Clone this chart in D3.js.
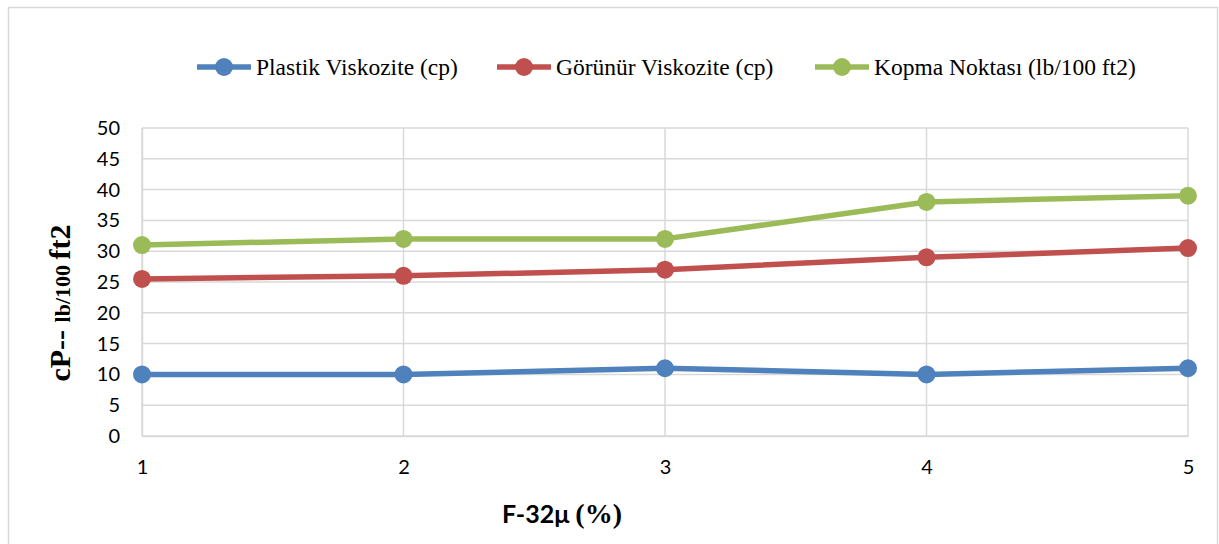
<!DOCTYPE html>
<html>
<head>
<meta charset="utf-8">
<script src="https://cdn.jsdelivr.net/npm/d3@7"></script>
<style>
    body { margin: 0; background: #fff; }
    svg { display: block; }
</style>
</head>
<body>
<div id="chart"></div>
<script>
// chart data
const xValues = [1, 2, 3, 4, 5];
const plastikViskozite = [10, 10, 11, 10, 11];
const gorunurViskozite = [25.5, 26, 27, 29, 30.5];
const kopmaNoktasi = [31, 32, 32, 38, 39];
const yTicks = [0, 5, 10, 15, 20, 25, 30, 35, 40, 45, 50];
const seriesNames = ["Plastik Viskozite (cp)", "Görünür Viskozite (cp)", "Kopma Noktası (lb/100 ft2)"];
const seriesColors = ["#4f81bd", "#c0504d", "#9bbb59"];

const width = 1219, height = 544;
const margin = {left: 142, right: 31, top: 128, bottom: 108};

const svg = d3.select("#chart").append("svg")
    .attr("width", width)
    .attr("height", height);

// outer chart border
svg.append("rect")
    .attr("x", 8.5).attr("y", 7.5)
    .attr("width", 1209).attr("height", 560)
    .attr("fill", "none")
    .attr("stroke", "#d9d9d9")
    .attr("stroke-width", 1.5);

const x = d3.scaleLinear().domain([1, 5]).range([margin.left, width - margin.right]);
const y = d3.scaleLinear().domain([0, 50]).range([height - margin.bottom, margin.top]);

// grid
svg.append("g").selectAll("line.h")
    .data(yTicks)
    .enter().append("line")
    .attr("x1", x(1)).attr("x2", x(5))
    .attr("y1", d => y(d)).attr("y2", d => y(d))
    .attr("stroke", "#d9d9d9").attr("stroke-width", 1.5);

svg.append("g").selectAll("line.v")
    .data(xValues)
    .enter().append("line")
    .attr("x1", d => x(d)).attr("x2", d => x(d))
    .attr("y1", y(0)).attr("y2", y(50))
    .attr("stroke", "#d9d9d9").attr("stroke-width", 1.5);

// axes
const yAxis = svg.append("g")
    .attr("transform", `translate(${x(1)},0)`)
    .call(d3.axisLeft(y).tickValues(yTicks).tickSize(0).tickPadding(22));
yAxis.select(".domain").attr("stroke", "#d9d9d9").attr("stroke-width", 1.5);
yAxis.selectAll("text")
    .style("font-family", "Lato, 'Open Sans', sans-serif")
    .style("font-size", "20px")
    .attr("fill", "#000");

const xAxis = svg.append("g")
    .attr("transform", `translate(0,${y(0)})`)
    .call(d3.axisBottom(x).tickValues(xValues).tickFormat(d3.format("d")).tickSize(0).tickPadding(24));
xAxis.select(".domain").attr("stroke", "#d9d9d9").attr("stroke-width", 1.5);
xAxis.selectAll("text")
    .style("font-family", "Lato, 'Open Sans', sans-serif")
    .style("font-size", "20px")
    .attr("fill", "#000");

// series
const allSeries = [plastikViskozite, gorunurViskozite, kopmaNoktasi];
const line = d3.line()
    .x((d, i) => x(xValues[i]))
    .y(d => y(d));

allSeries.forEach(function (values, s) {
    svg.append("path")
        .datum(values)
        .attr("d", line)
        .attr("fill", "none")
        .attr("stroke", seriesColors[s])
        .attr("stroke-width", 5.5)
        .attr("stroke-linejoin", "round");
    svg.append("g").selectAll("circle")
        .data(values)
        .enter().append("circle")
        .attr("cx", (d, i) => x(xValues[i]))
        .attr("cy", d => y(d))
        .attr("r", 9)
        .attr("fill", seriesColors[s]);
});

// legend
const legendX = [197, 497, 815];
const legend = svg.append("g");
seriesNames.forEach(function (name, s) {
    const g = legend.append("g").attr("transform", `translate(${legendX[s]},67)`);
    g.append("line")
        .attr("x1", 0).attr("x2", 54)
        .attr("stroke", seriesColors[s]).attr("stroke-width", 5.5);
    g.append("circle").attr("cx", 27).attr("r", 9).attr("fill", seriesColors[s]);
    g.append("text")
        .attr("x", 59).attr("y", 8)
        .style("font-family", "'Liberation Serif', 'Times New Roman', serif")
        .style("font-size", "23.5px")
        .text(name);
});

// axis titles
const yTitle = svg.append("text")
    .attr("transform", "translate(70,303) rotate(-90)")
    .attr("text-anchor", "middle")
    .style("font-family", "'Liberation Serif', 'Times New Roman', serif")
    .style("font-weight", "bold");
yTitle.append("tspan").style("font-size", "30px").text("cP-- ");
yTitle.append("tspan").style("font-size", "22px").text("lb/100 ");
yTitle.append("tspan").style("font-size", "30px").text("ft2");

const xTitle = svg.append("text")
    .attr("x", 562).attr("y", 523)
    .attr("text-anchor", "middle")
    .style("font-weight", "bold");
xTitle.append("tspan")
    .style("font-family", "Lato, 'Open Sans', sans-serif")
    .style("font-size", "25px")
    .text("F-32μ ");
xTitle.append("tspan")
    .style("font-family", "'Liberation Serif', 'Times New Roman', serif")
    .style("font-size", "28px")
    .text("(%)");
</script>
</body>
</html>
